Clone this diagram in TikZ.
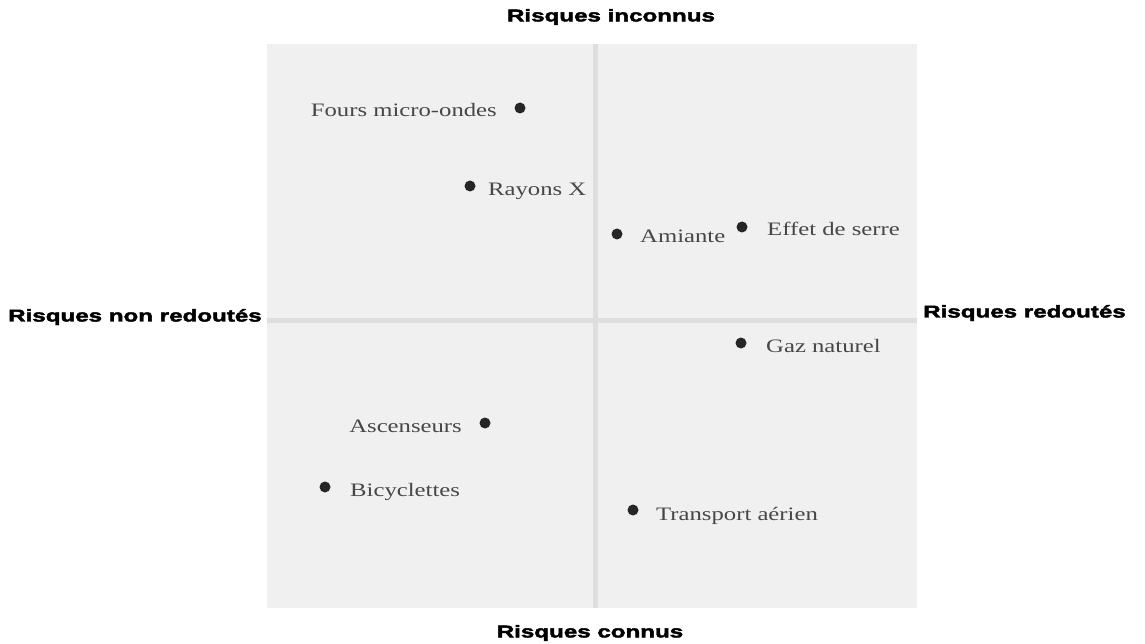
\documentclass[tikz,border=0pt]{standalone}
\usepackage{fontspec}
\setmainfont{Liberation Serif}
\newfontfamily\heavyfont[FakeStretch=1.42,FakeBold=2.5]{Liberation Sans}
\newfontfamily\ptfont[FakeStretch=1.3]{Liberation Serif}
\tikzset{
  riskdot/.style={circle,fill=black!85,inner sep=0pt,minimum size=11pt},
  risklbl/.style={font=\ptfont\fontsize{19}{22}\selectfont,text=black!72,inner sep=0pt},
  axislbl/.style={font=\heavyfont\bfseries\fontsize{17}{20}\selectfont,inner sep=0pt},
  field/.style={fill=black!6,draw=none},
  axisband/.style={draw=black!13,line width=5pt}
}
\begin{document}
\begin{tikzpicture}[x=1pt,y=-1pt]
\useasboundingbox (0,0) rectangle (1145,644);
\fill[white] (0,0) rectangle (1145,644);
% stippled field
\path[field] (267,44) rectangle (917,608);
\coordinate (vtop) at (595,44);
\coordinate (vbot) at (595,608);
\coordinate (hleft) at (267,320);
\coordinate (hright) at (917,320);
\draw[axisband] (vtop) -- (vbot);
\draw[axisband] (hleft) -- (hright);
% axis labels
\node[axislbl] (top) at (611,17) {Risques inconnus};
\node[axislbl] (bottom) at (590,633) {Risques connus};
\node[axislbl,anchor=west] (left) at (8,317) {Risques non redoutés};
\node[axislbl,anchor=west] (right) at (923,313) {Risques redoutés};
% points
\node[riskdot] (d1) at (520,108) {};
\node[risklbl,anchor=base east] (l1) at (497,117) {Fours micro-ondes};
\node[riskdot] (d2) at (470,186) {};
\node[risklbl,anchor=base west] (l2) at (488,196) {Rayons X};
\node[riskdot] (d3) at (617,234) {};
\node[risklbl,anchor=base west] (l3) at (640,243) {Amiante};
\node[riskdot] (d4) at (742,227) {};
\node[risklbl,anchor=base west] (l4) at (767,236) {Effet de serre};
\node[riskdot] (d5) at (741,343) {};
\node[risklbl,anchor=base west] (l5) at (766,352) {Gaz naturel};
\node[riskdot] (d6) at (485,423) {};
\node[risklbl,anchor=base east] (l6) at (462,432) {Ascenseurs};
\node[riskdot] (d7) at (325,487) {};
\node[risklbl,anchor=base west] (l7) at (350,496) {Bicyclettes};
\node[riskdot] (d8) at (633,510) {};
\node[risklbl,anchor=base west] (l8) at (656,520) {Transport aérien};
\end{tikzpicture}
\end{document}
